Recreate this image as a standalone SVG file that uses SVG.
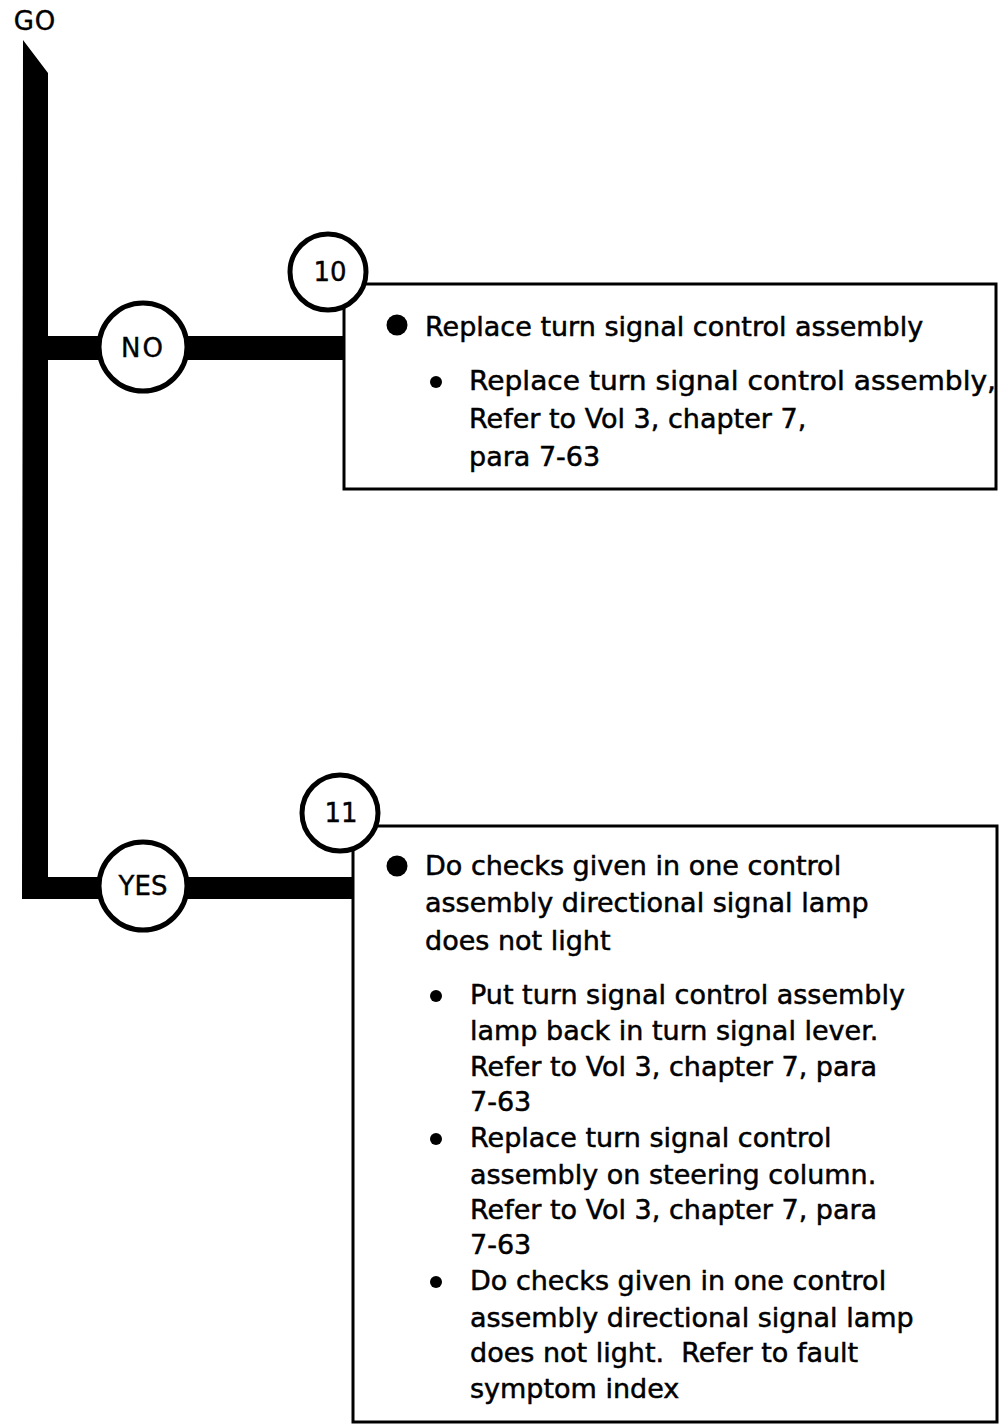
<svg xmlns="http://www.w3.org/2000/svg" width="1001" height="1425" viewBox="0 0 1001 1425">
<style>
.t{font-family:"DejaVu Sans","Liberation Sans",sans-serif;font-size:27px;fill:#000;stroke:#000;stroke-width:0.5}
.lbl{font-family:"DejaVu Sans","Liberation Sans",sans-serif;font-size:26px;fill:#000;stroke:#000;stroke-width:0.4;text-anchor:middle}
.box{fill:#fff;stroke:#000;stroke-width:3}
.circ{fill:#fff;stroke:#000;stroke-width:5}
.bar{fill:#000}
</style>
<g id="connectors">
<path class="bar" d="M23,40 L48,73 L48,877 L353,877 L353,899 L22,899 Z"/>
<rect class="bar" x="48" y="336" width="296" height="24"/>
</g>
<g id="go">
<text class="lbl" x="35" y="30" font-size="27" letter-spacing="1">GO</text>
</g>
<g id="box10">
<rect class="box" x="344" y="284" width="652" height="205"/>
<circle cx="397" cy="325" r="10.5"/>
<text class="t" x="425" y="336">Replace turn signal control assembly</text>
<circle cx="436" cy="382" r="6"/>
<text class="t" x="469" y="390" textLength="527" lengthAdjust="spacingAndGlyphs">Replace turn signal control assembly,</text>
<text class="t" x="469" y="428">Refer to Vol 3, chapter 7,</text>
<text class="t" x="469" y="466">para 7-63</text>
</g>
<g id="step10">
<circle class="circ" cx="328" cy="272" r="38"/>
<text class="lbl" x="330" y="281">10</text>
</g>
<g id="no">
<circle class="circ" cx="143" cy="347" r="44"/>
<text class="lbl" x="143" y="357" letter-spacing="2">NO</text>
</g>
<g id="box11">
<rect class="box" x="353" y="826" width="644" height="596"/>
<circle cx="397" cy="866" r="10.5"/>
<text class="t" x="425" y="875">Do checks given in one control</text>
<text class="t" x="425" y="912">assembly directional signal lamp</text>
<text class="t" x="425" y="950">does not light</text>
<circle cx="436" cy="996" r="6"/>
<text class="t" x="470" y="1004">Put turn signal control assembly</text>
<text class="t" x="470" y="1040">lamp back in turn signal lever.</text>
<text class="t" x="470" y="1076">Refer to Vol 3, chapter 7, para</text>
<text class="t" x="470" y="1111">7-63</text>
<circle cx="436" cy="1139" r="6"/>
<text class="t" x="470" y="1147">Replace turn signal control</text>
<text class="t" x="470" y="1184">assembly on steering column.</text>
<text class="t" x="470" y="1219">Refer to Vol 3, chapter 7, para</text>
<text class="t" x="470" y="1254">7-63</text>
<circle cx="436" cy="1282" r="6"/>
<text class="t" x="470" y="1290">Do checks given in one control</text>
<text class="t" x="470" y="1327">assembly directional signal lamp</text>
<text class="t" x="470" y="1362" xml:space="preserve">does not light.  Refer to fault</text>
<text class="t" x="470" y="1398">symptom index</text>
</g>
<g id="step11">
<circle class="circ" cx="340" cy="813" r="38"/>
<text class="lbl" x="341" y="822">11</text>
</g>
<g id="yes">
<circle class="circ" cx="143" cy="886" r="44"/>
<text class="lbl" x="143" y="895">YES</text>
</g>
</svg>
